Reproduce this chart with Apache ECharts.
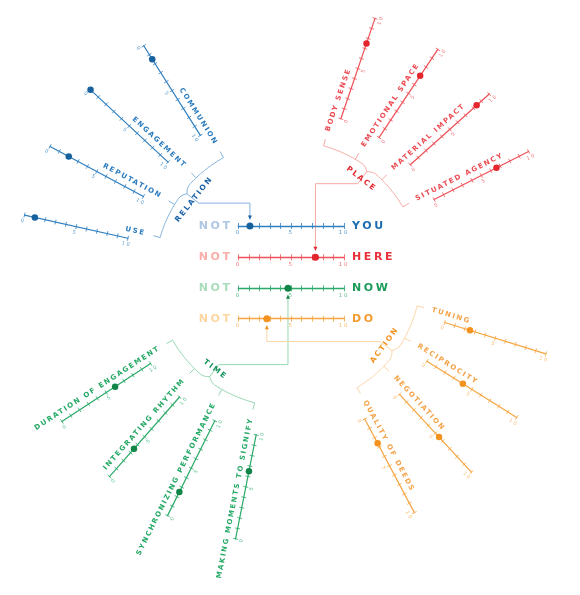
<!DOCTYPE html>
<html><head><meta charset="utf-8">
<script src="https://cdn.jsdelivr.net/npm/echarts@6/dist/echarts.min.js"></script>
<style>html,body{margin:0;padding:0;background:#fff}#c{width:580px;height:595px}</style>
</head><body><div id="c"></div>
<script>
// ---------------- data ----------------
const tickLabels = ['0', '5', '10'];
const centralLeft = ['NOT', 'NOT', 'NOT', 'NOT'];
const centralRight = ['YOU', 'HERE', 'NOW', 'DO'];
const centralValues = [1.1, 7.3, 4.7, 2.7];
const groupNames = ['RELATION', 'PLACE', 'TIME', 'ACTION'];
const relationCategories = ['COMMUNION', 'ENGAGEMENT', 'REPUTATION', 'USE'];
const relationValues = [1.5, 0, 2.0, 1.0];
const placeCategories = ['BODY SENSE', 'EMOTIONAL SPACE', 'MATERIAL IMPACT', 'SITUATED AGENCY'];
const placeValues = [7.5, 7.0, 8.4, 6.6];
const timeCategories = ['DURATION OF ENGAGEMENT', 'INTEGRATING RHYTHM', 'SYNCHRONIZING PERFORMANCE', 'MAKING MOMENTS TO SIGNIFY'];
const timeValues = [6.0, 3.5, 2.5, 6.5];
const actionCategories = ['TUNING', 'RECIPROCITY', 'NEGOTIATION', 'QUALITY OF DEEDS'];
const actionValues = [2.5, 4.0, 5.5, 2.6];

// ---------------- layout / style ----------------
const FONT = 'DejaVu Sans';
const CX = 288, CY = 274;
const FAN = { rIn: 164, rOut: 270, bracketR: 133, hook: 7, cusp: 4, nameR: 148, nameOff: 8.5, groupR: 120, labelShift: 3.3 };
const CENTRAL = { left: 238.3, width: 105.7, ys: [226, 257.3, 288.3, 318.7] };
const groupLayout = [
  { angles: [-122.3, -137.0, -151.8, -167.4], zeroOuter: true, labelSide: 1 },
  { angles: [-71.2, -56.3, -41.8, -27.0], zeroOuter: false, labelSide: -1 },
  { angles: [146.9, 131.4, 116.5, 101.2], zeroOuter: true, labelSide: 1 },
  { angles: [17.2, 32.1, 47.2, 62.1], zeroOuter: false, labelSide: -1 }
];
const palettes = [
  { axis: '#2f7fc1', dot: '#17619f', text: '#2a7bbf', strong: '#1d6db1', light: '#aec7e5', bracket: '#84b3de', group: '#1b62a6', tick: '#5a9ad0' },
  { axis: '#ee5058', dot: '#e3252e', text: '#ec4a52', strong: '#e8313a', light: '#f8b0a7', bracket: '#f6aaa5', group: '#e2262f', tick: '#f07a80' },
  { axis: '#2aaa68', dot: '#118548', text: '#25a865', strong: '#1b9c59', light: '#a9dcbd', bracket: '#94d8b1', group: '#16925a', tick: '#5fc190' },
  { axis: '#f6a540', dot: '#f3921f', text: '#f5a247', strong: '#f49a2e', light: '#fdd6a1', bracket: '#fcd6a5', group: '#f2931f', tick: '#f8bd72' }
];
const groupData = [
  { name: groupNames[0], cats: relationCategories, vals: relationValues },
  { name: groupNames[1], cats: placeCategories, vals: placeValues },
  { name: groupNames[2], cats: timeCategories, vals: timeValues },
  { name: groupNames[3], cats: actionCategories, vals: actionValues }
];

// letter tracking for bold caps text
function spacingFor(font) {
  const m = /(\d+(?:\.\d+)?)px/.exec(font || '');
  if (!m || !/bold|[6-9]00/.test(font)) return 0;
  return parseFloat(m[1]) * 0.24;
}
(function () {
  const proto = CanvasRenderingContext2D.prototype;
  const orig = proto.fillText;
  proto.fillText = function (t, x, y, w) {
    const s = spacingFor(this.font);
    if (s && 'letterSpacing' in this) {
      const prev = this.letterSpacing;
      this.letterSpacing = s + 'px';
      const r = w === undefined ? orig.call(this, t, x, y) : orig.call(this, t, x, y, w);
      this.letterSpacing = prev;
      return r;
    }
    return w === undefined ? orig.call(this, t, x, y) : orig.call(this, t, x, y, w);
  };
})();

const tickFmt = v => tickLabels.includes(String(v)) ? String(v) : '';

const chart = echarts.init(document.getElementById('c'), null, { renderer: 'canvas' });

const grid = [], xAxis = [], yAxis = [], polar = [], angleAxis = [], radiusAxis = [], series = [];
const centralSeriesIdx = [];

centralRight.forEach((nm, i) => {
  const pal = palettes[i];
  const y = CENTRAL.ys[i];
  grid.push({ left: CENTRAL.left, top: y - 10, width: CENTRAL.width, height: 10, containLabel: false, outerBoundsMode: 'none' });
  xAxis.push({
    gridIndex: i, type: 'value', min: 0, max: 10, interval: 1, position: 'bottom',
    axisLine: { show: true, lineStyle: { color: pal.axis, width: 1.3 } },
    axisTick: { show: true, length: 3, lineStyle: { color: pal.axis, width: 0.8 } },
    axisLabel: { formatter: tickFmt, fontSize: 5.5, color: pal.tick, margin: 4, fontFamily: FONT },
    splitLine: { show: false },
    name: centralLeft[i], nameLocation: 'start', nameGap: 5,
    nameTextStyle: { color: pal.light, fontSize: 11, fontWeight: 'bold', fontFamily: FONT }
  });
  xAxis.push({
    gridIndex: i, type: 'value', min: 0, max: 10, interval: 1, position: 'bottom',
    axisLine: { show: false },
    axisTick: { show: true, inside: true, length: 3, lineStyle: { color: pal.axis, width: 0.8 } },
    axisLabel: { show: false },
    splitLine: { show: false },
    name: nm, nameLocation: 'end', nameGap: 8,
    nameTextStyle: { color: pal.strong, fontSize: 11, fontWeight: 'bold', fontFamily: FONT }
  });
  yAxis.push({ gridIndex: i, type: 'value', min: 0, max: 1, show: false });
  centralSeriesIdx.push(series.length);
  series.push({
    type: 'scatter', xAxisIndex: 2 * i, yAxisIndex: i, clip: false, silent: true,
    data: [[centralValues[i], 0]], symbolSize: 7, itemStyle: { color: pal.dot, opacity: 1 }, z: 5
  });
});

let p = 0;
groupData.forEach((g, gi) => {
  const L = groupLayout[gi], pal = palettes[gi];
  g.cats.forEach((cat, j) => {
    const th = L.angles[j];
    const readDir = Math.cos(th * Math.PI / 180) < 0 ? th + 180 : th;
    for (let k = 0; k < 2; k++) {
      polar.push({ center: [CX, CY], radius: [FAN.rIn, FAN.rOut] });
      angleAxis.push({ polarIndex: p, type: 'value', min: 0, max: 360, startAngle: -th, show: false });
      radiusAxis.push({
        polarIndex: p, type: 'value', min: 0, max: 10, interval: 1, inverse: L.zeroOuter,
        axisLine: { show: k === 0, lineStyle: { color: pal.axis, width: 1.2 } },
        axisTick: { show: true, length: k === 0 ? 2.5 : -2.5, lineStyle: { color: pal.axis, width: 0.8 } },
        axisLabel: {
          show: k === 0, formatter: tickFmt, fontSize: 5, color: pal.tick, fontFamily: FONT,
          margin: L.labelSide > 0 ? 6 : -6, align: 'center', verticalAlign: 'middle', rotate: -readDir
        },
        splitLine: { show: false }, splitArea: { show: false }
      });
      p++;
    }
    series.push({
      type: 'scatter', coordinateSystem: 'polar', polarIndex: p - 2, silent: true, clip: false,
      data: [[g.vals[j], 0]], symbolSize: 6.5, itemStyle: { color: pal.dot, opacity: 1 }, z: 5
    });
  });
});

chart.setOption({
  backgroundColor: '#ffffff',
  animation: false,
  grid, xAxis, yAxis, polar, angleAxis, radiusAxis, series
});

// ---------------- decorations: names, brackets, connectors ----------------
function pt(r, a) { const t = a * Math.PI / 180; return [CX + r * Math.cos(t), CY + r * Math.sin(t)]; }
const els = [];
groupData.forEach((g, gi) => {
  const L = groupLayout[gi], pal = palettes[gi];
  const la = L.angles.map(a => a + L.labelSide * FAN.labelShift);
  g.cats.forEach((cat, j) => {
    const th = L.angles[j];
    const inward = Math.cos(th * Math.PI / 180) < 0;
    const d = inward ? th + 180 : th;
    const dr = d * Math.PI / 180;
    const base = pt(FAN.nameR, th);
    const up = [Math.sin(dr), -Math.cos(dr)];
    els.push({
      type: 'text', x: base[0] + up[0] * FAN.nameOff, y: base[1] + up[1] * FAN.nameOff, rotation: -dr, silent: true,
      style: { text: cat, fill: pal.text, font: 'bold 7px ' + FONT, align: inward ? 'right' : 'left', textAlign: inward ? 'right' : 'left', verticalAlign: 'middle', textVerticalAlign: 'middle' }
    });
  });
  const a0 = la[0], a1 = la[la.length - 1], amid = (a0 + a1) / 2;
  const pts = [pt(FAN.bracketR + FAN.hook, a0)];
  const n = 60;
  for (let s = 0; s <= n; s++) {
    const a = a0 + (a1 - a0) * s / n;
    const w = Math.max(0, 1 - Math.abs(a - amid) / 4);
    pts.push(pt(FAN.bracketR - FAN.cusp * w * w, a));
  }
  pts.push(pt(FAN.bracketR + FAN.hook, a1));
  els.push({ type: 'polyline', silent: true, shape: { points: pts }, style: { stroke: pal.bracket, lineWidth: 1, fill: null } });
  for (let j = 1; j < la.length - 1; j++) {
    const q0 = pt(FAN.bracketR, la[j]), q1 = pt(FAN.bracketR + FAN.hook, la[j]);
    els.push({ type: 'line', silent: true, shape: { x1: q0[0], y1: q0[1], x2: q1[0], y2: q1[1] }, style: { stroke: pal.bracket, lineWidth: 1 } });
  }
  // group label
  const gp = pt(FAN.groupR, amid);
  let dd = amid + 90;
  if (Math.cos(dd * Math.PI / 180) < 0) dd = amid - 90;
  els.push({
    type: 'text', x: gp[0], y: gp[1], rotation: -dd * Math.PI / 180, silent: true, z: 10,
    style: { text: g.name, fill: pal.group, font: 'bold 7.5px ' + FONT, align: 'center', textAlign: 'center', verticalAlign: 'middle', textVerticalAlign: 'middle' }
  });
  // connector to central dot
  const cusp = pt(FAN.bracketR - FAN.cusp, amid);
  const p1 = pt(FAN.bracketR - FAN.cusp - 15, amid);
  const dotPx = chart.convertToPixel({ seriesIndex: centralSeriesIdx[gi] }, [centralValues[gi], 0]);
  const dir = Math.sign(dotPx[1] - p1[1]);
  const tip = [dotPx[0], dotPx[1] - dir * 6.5];
  els.push({ type: 'polyline', silent: true, shape: { points: [cusp, p1, [dotPx[0], p1[1]], tip] }, style: { stroke: pal.bracket, lineWidth: 1, fill: null } });
  els.push({ type: 'polygon', silent: true, shape: { points: [tip, [tip[0] - 2, tip[1] - dir * 4], [tip[0] + 2, tip[1] - dir * 4]] }, style: { fill: pal.dot } });
});

chart.setOption({ graphic: { elements: els } });
</script>
</body></html>
